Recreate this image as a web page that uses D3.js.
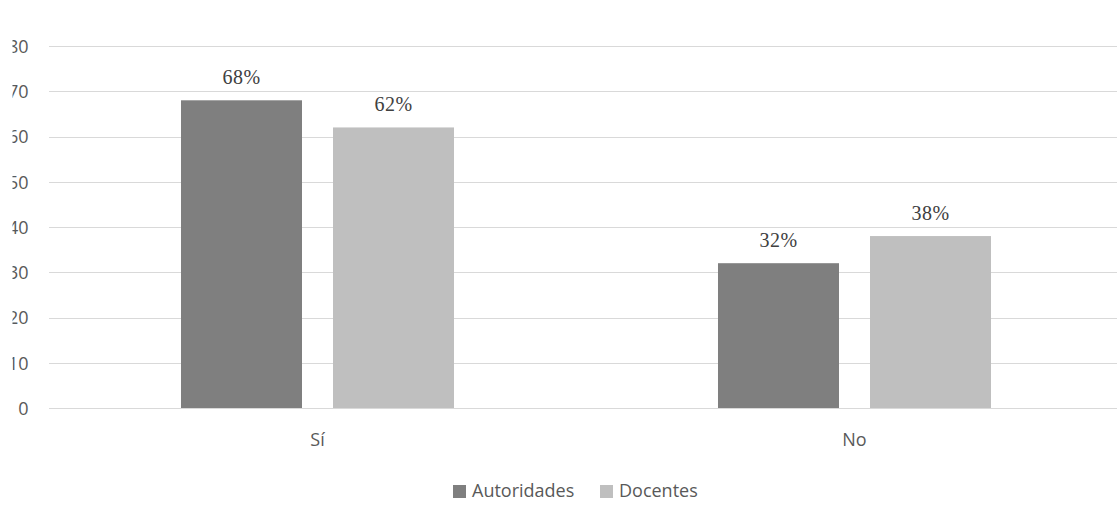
<!DOCTYPE html>
<html><head><meta charset="utf-8">
<script src="https://cdn.jsdelivr.net/npm/d3@7"></script>
<style>
html,body{margin:0;padding:0;background:#fff;overflow:hidden}
svg{display:block}
</style></head>
<body>
<svg id="c" width="1117" height="523"></svg>
<script>
const categories = ["Sí", "No"];
const seriesNames = ["Autoridades", "Docentes"];
const autoridades = [68, 32];
const docentes = [62, 38];
const yTicks = [0, 10, 20, 30, 40, 50, 60, 70, 80];
const colors = ["#7f7f7f", "#bfbfbf"];

const svg = d3.select("#c");
const W = 1117, H = 523;
const mLeft = 49, mTop = 46, mBottom = 408, rightEnd = 1123;

const y = d3.scaleLinear().domain([0, 80]).range([mBottom, mTop]);
const x0 = d3.scaleBand().domain(categories).range([mLeft, rightEnd]).padding(0);
const bw = x0.bandwidth();
const x1 = d3.scaleBand().domain(seriesNames).range([bw * 0.2458, bw * 0.7542]).paddingInner(0.204).paddingOuter(0);

// clip for the cropped left edge of the y labels
svg.append("defs").append("clipPath").attr("id", "yclip")
  .append("rect").attr("x", 12.5).attr("y", 0).attr("width", W).attr("height", H);

// gridlines
svg.append("g").selectAll("line").data(yTicks).join("line")
  .attr("x1", mLeft).attr("x2", W)
  .attr("y1", d => Math.round(y(d)) + 0.5).attr("y2", d => Math.round(y(d)) + 0.5)
  .attr("stroke", "#d9d9d9").attr("stroke-width", 1);

// y axis labels
const yAxis = d3.axisLeft(y).tickValues(yTicks).tickSize(0).tickPadding(0).tickFormat(d3.format("d"));
const gaWrap = svg.append("g").attr("clip-path", "url(#yclip)");
const ga = gaWrap.append("g").attr("transform", "translate(28.5,0)").call(yAxis);
ga.select(".domain").remove();
ga.selectAll("text").attr("font-family", "'Open Sans', sans-serif").attr("font-size", 18)
  .attr("fill", "#595959").attr("dy", "0.35em");

// bars
const data = categories.map((c, i) => ({cat: c, vals: [autoridades[i], docentes[i]]}));
const groups = svg.append("g").selectAll("g").data(data).join("g")
  .attr("transform", d => `translate(${x0(d.cat)},0)`);
groups.selectAll("rect").data(d => d.vals.map((v, j) => ({s: seriesNames[j], v, j})))
  .join("rect")
  .attr("x", d => x1(d.s)).attr("width", x1.bandwidth())
  .attr("y", d => y(d.v)).attr("height", d => y(0) - y(d.v))
  .attr("fill", d => colors[d.j]);
groups.selectAll("text").data(d => d.vals.map((v, j) => ({s: seriesNames[j], v, j})))
  .join("text")
  .attr("x", d => x1(d.s) + x1.bandwidth() / 2)
  .attr("y", d => y(d.v) - 16)
  .attr("text-anchor", "middle")
  .attr("font-family", "'Liberation Serif', 'Times New Roman', serif")
  .attr("font-size", 20).attr("fill", "#404040")
  .style("letter-spacing", "0.5px")
  .text(d => d.v + "%");

// x axis
const xAxis = d3.axisBottom(x0).tickSize(0).tickPadding(0);
const gx = svg.append("g").attr("transform", `translate(0,${mBottom})`).call(xAxis);
gx.select(".domain").remove();
gx.selectAll("text").attr("font-family", "'Open Sans', sans-serif").attr("font-size", 18)
  .attr("fill", "#595959").attr("dy", null).attr("y", 38);

// legend
const legendX = [453, 600];
const lg = svg.append("g").selectAll("g").data(seriesNames).join("g")
  .attr("transform", (d, i) => `translate(${legendX[i]},485)`);
lg.append("rect").attr("width", 13).attr("height", 13).attr("fill", (d, i) => colors[i]);
lg.append("text").attr("x", 19).attr("y", 12)
  .attr("font-family", "'Open Sans', sans-serif").attr("font-size", 18).attr("fill", "#595959")
  .text(d => d);
</script>
</body></html>
